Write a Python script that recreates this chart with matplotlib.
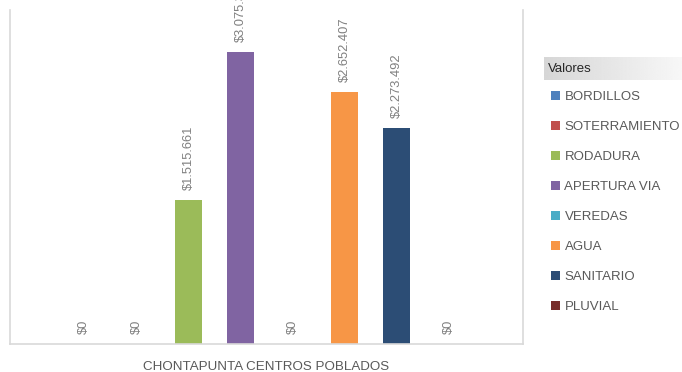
import numpy as np
import matplotlib
matplotlib.use("Agg")
import matplotlib.pyplot as plt

# ── data ─────────────────────────────────────────────────────────────────────
category = "CHONTAPUNTA CENTROS POBLADOS"
series = ["BORDILLOS", "SOTERRAMIENTO", "RODADURA", "APERTURA VIA",
          "VEREDAS", "AGUA", "SANITARIO", "PLUVIAL"]
values = [0, 0, 1515661, 3075348, 0, 2652407, 2273492, 0]
colors = ["#4F81BD", "#C0504D", "#9BBB59", "#8064A2",
          "#4BACC6", "#F79646", "#2C4D75", "#772C2A"]

TEXT_GREY = "#595959"
LABEL_GREY = "#808080"
FRAME = "#D9D9D9"

W, H = 682, 372


def money(v):
    return "$" + f"{v:,.0f}".replace(",", ".")


fig = plt.figure(figsize=(W / 100, H / 100), dpi=100)
ax = fig.add_axes([10 / W, 28 / H, 513 / W, 334 / H])

n = len(series)
offsets = np.arange(n) - (n - 1) / 2
handles = []
for off, name, v, c in zip(offsets, series, values, colors):
    b = ax.bar(off, v, width=0.53, color=c, label=name, zorder=2)
    handles.append(b)
    # value label above each bar (the tallest one runs off the top, as in the original)
    ax.annotate(money(v), (off, v), xytext=(0, 7), textcoords="offset points",
                rotation=90, ha="center", va="bottom", fontsize=9.3,
                family="Liberation Sans", color=LABEL_GREY,
                annotation_clip=False)

ax.set_xlim(-4.93, 4.93)
ax.set_ylim(0, 3.516e6)
ax.set_yticks([])
ax.set_xticks([0])
ax.set_xticklabels([category], fontsize=9.6, color=TEXT_GREY)
ax.tick_params(axis="x", length=0, pad=12)
for lab in ax.get_xticklabels():
    lab.set_family("Liberation Sans")

for s in ["left", "right", "bottom"]:
    ax.spines[s].set_color(FRAME)
    ax.spines[s].set_linewidth(1.2)
ax.spines["top"].set_visible(False)

# legend title box with grey gradient
tax = fig.add_axes([544 / W, 1 - 80 / H, 138 / W, 23 / H])
grad = np.linspace(0.84, 0.97, 256).reshape(1, -1)
tax.imshow(grad, aspect="auto", cmap="gray", vmin=0, vmax=1,
           extent=[0, 1, 0, 1])
tax.set_axis_off()
tax.text(0.03, 0.5, "Valores", va="center", ha="left", fontsize=9.5,
         color="#262626", family="Liberation Sans")

leg = fig.legend(handles, series, loc="upper left",
                 bbox_to_anchor=(546 / W, 1 - 86 / H), frameon=False,
                 handlelength=0.65, handleheight=0.65,
                 handletextpad=0.35, labelspacing=1.36, borderaxespad=0,
                 prop={"family": "Liberation Sans", "size": 9.5})
for t in leg.get_texts():
    t.set_color(TEXT_GREY)

fig.savefig("out.png", dpi=100)
